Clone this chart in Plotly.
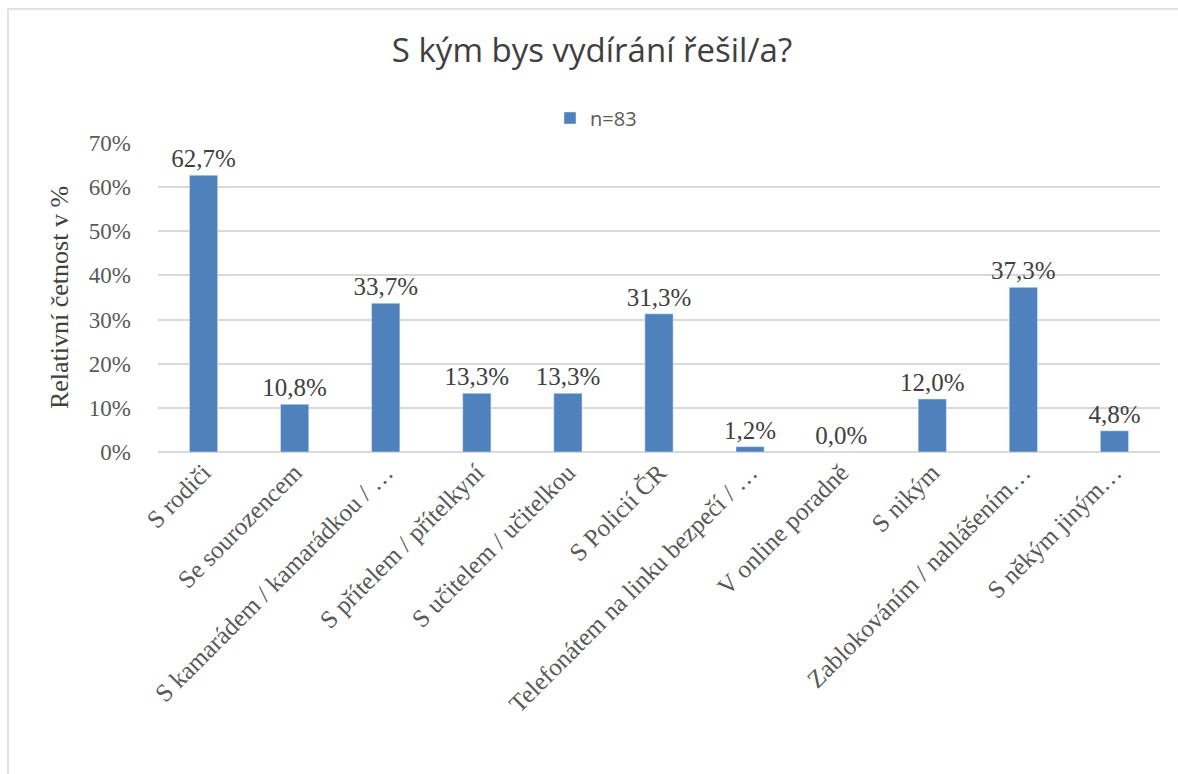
import plotly.graph_objects as go

categories = [
    "S rodiči",
    "Se sourozencem",
    "S kamarádem / kamarádkou / …",
    "S přítelem / přítelkyní",
    "S učitelem / učitelkou",
    "S Policií ČR",
    "Telefonátem na linku bezpečí / …",
    "V online poradně",
    "S nikým",
    "Zablokováním / nahlášením…",
    "S někým jiným…",
]
values = [62.7, 10.8, 33.7, 13.3, 13.3, 31.3, 1.2, 0.0, 12.0, 37.3, 4.8]
series_name = "n=83"
title_text = "S kým bys vydírání řešil/a?"
y_title = "Relativní četnost v %"
y_ticks = [0, 10, 20, 30, 40, 50, 60, 70]
y_ticktext = [f"{v}%" for v in y_ticks]

W, H = 1178, 774
# plot area in page pixels: x 158..1160, y 143..452
L, T = 158, 143
R = W - 1160
B = H - 452
pw, ph = W - L - R, H - T - B

def px_x(p):  # page px -> paper x
    return (p - L) / pw

def px_y(p):  # page px -> paper y
    return (H - B - p) / ph

fig = go.Figure()
fig.add_trace(go.Bar(
    x=categories, y=values, name=series_name,
    marker=dict(color="#4f81bd"),
    texttemplate="%{y:.1f}%", textposition="outside", constraintext="none",
    textfont=dict(family="Liberation Serif", size=25, color="#404040"),
    cliponaxis=False,
))

fig.update_layout(
    width=W, height=H,
    margin=dict(l=L, r=R, t=T, b=B, autoexpand=False),
    paper_bgcolor="white", plot_bgcolor="white",
    separators=", ",
    bargap=0.69,
    showlegend=True,
    title=dict(text=title_text, x=px_x(592), xanchor="center", xref="paper",
               y=1 - 50 / H, yanchor="middle",
               font=dict(family="Open Sans", size=33, color="#404040")),
    legend=dict(orientation="h", x=px_x(596), xanchor="center", y=px_y(118), yanchor="middle",
                font=dict(family="Open Sans", size=20, color="#595959"), itemwidth=30),
    xaxis=dict(tickangle=-45, showgrid=False, showline=False, ticks="", automargin=False,
               tickfont=dict(family="Liberation Serif", size=25, color="#595959")),
    yaxis=dict(range=[0, 70], tickvals=y_ticks, ticktext=y_ticktext, showgrid=True,
               gridcolor="#d9d9d9", gridwidth=1.5, zeroline=True, zerolinecolor="#d9d9d9",
               zerolinewidth=1.5, ticks="", ticklabelstandoff=26, automargin=False,
               tickfont=dict(family="Liberation Serif", size=23, color="#595959"),
               title=dict(text=y_title, standoff=12,
                          font=dict(family="Liberation Serif", size=26, color="#404040"))),
    shapes=[dict(type="rect", xref="paper", yref="paper",
                 x0=px_x(8), x1=px_x(1200), y0=px_y(800), y1=px_y(9),
                 line=dict(color="#d9d9d9", width=1.5), fillcolor="rgba(0,0,0,0)", layer="below")],
)

fig.write_html(
    "out.html",
    config={"displayModeBar": False},
    post_script="document.body.style.margin='0';document.body.style.overflow='hidden';",
)
